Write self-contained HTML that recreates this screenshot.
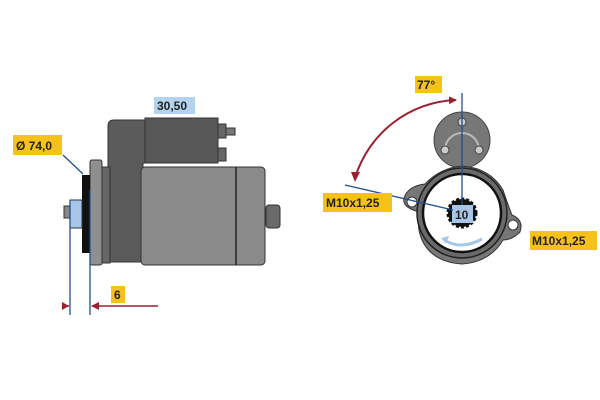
<!DOCTYPE html>
<html><head><meta charset="utf-8"><style>
html,body{margin:0;padding:0;background:#fff;width:600px;height:400px;overflow:hidden}
svg{display:block}
text{font-family:"Liberation Sans",sans-serif;font-weight:bold;font-size:12px;fill:#222}
</style></head><body>
<svg width="600" height="400" viewBox="0 0 600 400">
<defs>
<marker id="ar" markerWidth="8" markerHeight="8" refX="7" refY="4" orient="auto" markerUnits="userSpaceOnUse"><path d="M0,0 L8,4 L0,8 z" fill="#9b2030"/></marker>
</defs>
<!-- LEFT: starter side view -->
<path d="M108,126 Q108,120 114,120 L146,120 L146,163 L143,163 L143,262 L108,262 Z" fill="#5b5b5b" stroke="#333" stroke-width="1"/>
<rect x="145" y="118" width="73" height="45" fill="#585858" stroke="#333"/>
<rect x="218" y="124" width="8" height="14" fill="#666" stroke="#333"/>
<rect x="226" y="128" width="9" height="7" fill="#777" stroke="#333"/>
<rect x="218" y="148" width="8" height="13" fill="#666" stroke="#333"/>
<rect x="141" y="167" width="124" height="98" rx="4" fill="#8a8a8a" stroke="#333"/>
<line x1="236" y1="167" x2="236" y2="265" stroke="#222" stroke-width="1.5"/>
<rect x="266" y="205" width="14" height="23" rx="3" fill="#6a6a6a" stroke="#333"/>
<rect x="100" y="167" width="10" height="96" fill="#666" stroke="#333"/>
<rect x="90" y="160" width="12" height="105" rx="2" fill="#8f8f8f" stroke="#333"/>
<rect x="82" y="175" width="8" height="78" fill="#111"/>
<rect x="70" y="200" width="12" height="28" fill="#a8c7e8" stroke="#333"/>
<rect x="64" y="206" width="6" height="12" fill="#888" stroke="#333"/>
<line x1="70" y1="200" x2="70" y2="315" stroke="#1f4f8f" stroke-width="1.3"/>
<line x1="90" y1="190" x2="90" y2="315" stroke="#1f4f8f" stroke-width="1.3"/>
<line x1="63" y1="155" x2="83" y2="174" stroke="#1f4f8f" stroke-width="1.3"/>
<line x1="158" y1="306" x2="92" y2="306" stroke="#9b2030" stroke-width="1.5" marker-end="url(#ar)"/>
<line x1="63" y1="306" x2="69" y2="306" stroke="#9b2030" stroke-width="1.5"/>
<path d="M62,302 L69,306 L62,310z" fill="#9b2030"/>
<rect x="13" y="135" width="49" height="20" fill="#f6c21a"/>
<text x="16" y="150">Ø 74,0</text>
<rect x="154" y="97" width="41" height="17" fill="#b3d3ef"/>
<text x="157" y="110">30,50</text>
<rect x="111" y="286" width="14" height="17" fill="#f6c21a"/>
<text x="114" y="299">6</text>
<!-- RIGHT: front view -->
<circle cx="462" cy="140" r="28" fill="#777" stroke="#444"/>
<path d="M445,150 A17,17 0 0 1 479,150" fill="none" stroke="#bbb" stroke-width="2"/>
<circle cx="462" cy="122" r="4" fill="#ccc" stroke="#444"/>
<circle cx="445" cy="150" r="4" fill="#ccc" stroke="#444"/>
<circle cx="479" cy="150" r="4" fill="#ccc" stroke="#444"/>
<path d="M404,198 Q408,186 425,184 Q440,168 462,166 Q490,168 503,190 Q508,205 512,215 Q524,220 520,232 Q512,240 503,240 Q490,262 462,264 Q432,262 422,240 Q416,226 420,212 Q402,208 404,198 Z" fill="#777" stroke="#333"/>
<circle cx="462" cy="213" r="45" fill="#6a6a6a" stroke="#222" stroke-width="1.5"/>
<circle cx="462" cy="213" r="39" fill="#fff" stroke="#111" stroke-width="2.5"/>
<circle cx="412" cy="202" r="5" fill="#fff" stroke="#333"/>
<circle cx="513" cy="225" r="5" fill="#fff" stroke="#333"/>
<path d="M446,241 Q462,250 482,239" fill="none" stroke="#a8c7e8" stroke-width="3"/>
<path d="M441,238 L449,236 L446,244z" fill="#a8c7e8"/>
<circle cx="462" cy="213" r="14" fill="#111" stroke="#111" stroke-width="3" stroke-dasharray="3 2"/>
<rect x="452" y="205" width="21" height="18" fill="#a8c7e8"/>
<text x="455" y="219">10</text>
<line x1="462" y1="93" x2="462" y2="205" stroke="#1f4f8f" stroke-width="1.3"/>
<line x1="345" y1="185" x2="453" y2="210" stroke="#1f4f8f" stroke-width="1.3"/>
<path d="M355,178 A110,110 0 0 1 456,100" fill="none" stroke="#9b2030" stroke-width="2" marker-end="url(#ar)"/>
<path d="M351,172 L355,182 L360,172z" fill="#9b2030"/>
<rect x="415" y="76" width="27" height="17" fill="#f6c21a"/>
<text x="417" y="89">77°</text>
<rect x="323" y="193" width="69" height="19" fill="#f6c21a"/>
<text x="326" y="207">M10x1,25</text>
<rect x="530" y="231" width="67" height="19" fill="#f6c21a"/>
<text x="532" y="245">M10x1,25</text>
</svg>
</body></html>
